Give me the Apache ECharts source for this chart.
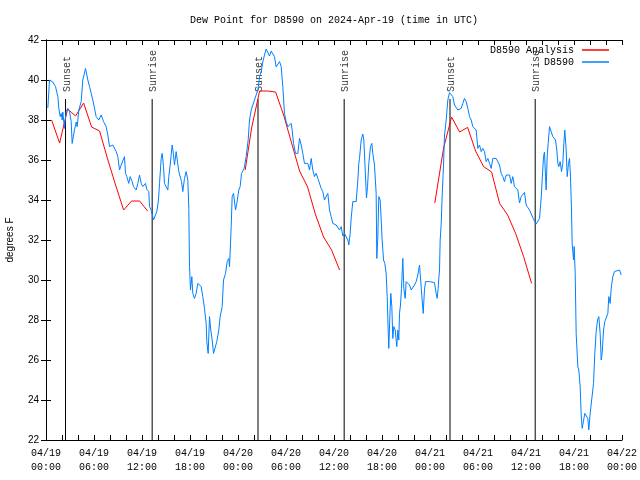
<!DOCTYPE html>
<html>
<head>
<meta charset="utf-8">
<script src="https://cdn.jsdelivr.net/npm/echarts@6/dist/echarts.min.js"></script>
<style>html,body{margin:0;padding:0;background:#fff}#c{width:640px;height:480px}</style>
</head>
<body>
<div id="c"></div>
<script>
// ---- data (hours since 2024-04-19 00:00 UTC, dew point in °F) ----
const titleText = 'Dew Point for D8590 on 2024-Apr-19 (time in UTC)';
const xTickLabels = ['04/19\n00:00','04/19\n06:00','04/19\n12:00','04/19\n18:00',
  '04/20\n00:00','04/20\n06:00','04/20\n12:00','04/20\n18:00',
  '04/21\n00:00','04/21\n06:00','04/21\n12:00','04/21\n18:00','04/22\n00:00'];

const obsHours = [0.23,0.44,0.65,0.85,1.19,1.48,1.6,1.78,1.9,2.02,2.1,2.31,2.52,2.73,2.94,3.15,3.27,3.48,3.56,3.78,3.9,4.1,4.4,4.6,4.94,5.23,5.44,5.65,5.85,6.27,6.6,6.9,7.19,7.31,7.52,7.73,7.94,8.15,8.35,8.56,8.77,8.98,9.19,9.4,9.6,9.81,9.94,10.1,10.35,10.52,10.77,10.94,11.27,11.48,11.69,11.9,12.1,12.44,12.6,12.85,12.94,13.15,13.27,13.44,13.69,13.85,14.06,14.19,14.4,14.52,14.69,14.81,15.02,15.23,15.35,15.52,15.77,15.94,16.06,16.27,16.48,16.6,16.77,16.94,17.1,17.31,17.52,17.73,17.85,17.94,18.06,18.23,18.35,18.56,18.77,18.98,19.19,19.4,19.6,19.81,20.02,20.1,20.27,20.44,20.6,20.77,20.94,21.19,21.35,21.6,21.77,22.02,22.19,22.44,22.65,22.85,22.94,23.15,23.27,23.44,23.69,23.85,24.1,24.27,24.44,24.6,24.77,25.02,25.27,25.44,25.65,25.85,26.06,26.27,26.48,26.69,26.9,27.1,27.31,27.52,27.73,27.94,28.15,28.35,28.56,28.77,28.98,29.19,29.4,29.6,29.81,30.02,30.23,30.44,30.65,30.77,30.94,31.19,31.48,31.69,31.9,32.1,32.31,32.52,32.73,32.94,33.15,33.35,33.56,33.77,33.98,34.19,34.4,34.6,34.81,35.02,35.23,35.44,35.65,35.85,36.06,36.27,36.48,36.69,36.9,37.1,37.31,37.52,37.73,37.85,38.02,38.15,38.35,38.77,38.98,39.1,39.19,39.4,39.6,39.73,39.9,40.06,40.19,40.35,40.56,40.73,40.85,41.06,41.27,41.35,41.48,41.6,41.77,41.9,42.02,42.19,42.35,42.52,42.65,42.77,42.85,42.98,43.1,43.23,43.35,43.48,43.65,43.77,43.85,43.98,44.1,44.19,44.31,44.44,44.6,44.73,44.9,45.02,45.23,45.44,45.65,45.85,46.06,46.27,46.48,46.69,46.9,47.02,47.15,47.31,47.44,47.94,48.56,48.77,48.9,49.02,49.1,49.19,49.27,49.4,49.52,49.69,49.81,50.02,50.23,50.44,50.65,50.85,51.06,51.27,51.48,51.69,51.9,52.1,52.31,52.52,52.73,52.94,53.15,53.35,53.56,53.77,53.98,54.19,54.4,54.6,54.81,55.02,55.23,55.44,55.65,55.85,56.06,56.27,56.48,56.69,56.9,57.1,57.31,57.52,57.73,57.94,58.15,58.35,58.56,58.77,58.98,59.19,59.4,59.6,59.81,60.02,60.23,60.44,60.65,60.85,61.06,61.27,61.48,61.69,61.9,62.02,62.19,62.31,62.44,62.52,62.65,62.77,62.94,63.15,63.35,63.56,63.69,63.85,63.98,64.1,64.27,64.44,64.6,64.73,64.85,65.02,65.15,65.31,65.44,65.56,65.69,65.77,65.94,66.02,66.15,66.27,66.48,66.6,66.77,66.9,67.02,67.19,67.35,67.52,67.73,67.85,68.02,68.27,68.44,68.6,68.77,68.94,69.1,69.27,69.4,69.52,69.69,69.85,70.1,70.23,70.35,70.52,70.65,70.85,71.06,71.27,71.69,71.9];
const obsDewpt = [38.6,40.0,40.08,39.9,39.67,39.17,38.58,38.17,38.33,38.0,38.4,37.58,38.42,38.58,38.42,37.92,36.83,36.83,37.5,37.9,37.67,38.5,38.92,40.0,40.58,40.0,39.67,39.33,39.0,38.17,38.0,38.25,37.92,38.0,37.67,37.25,36.67,36.58,36.75,36.83,36.42,36.17,35.5,35.75,35.83,36.17,35.33,35.17,34.83,35.17,34.92,34.67,34.5,34.83,35.25,34.83,34.67,34.83,34.53,34.42,33.67,33.5,33.5,33.0,32.97,33.42,34.0,34.83,36.08,36.33,35.67,34.83,34.92,34.5,35.17,35.75,36.75,36.25,35.75,36.42,36.42,35.42,35.42,34.92,34.42,35.08,35.42,35.0,33.58,30.67,29.5,30.17,29.33,29.08,29.33,29.83,29.83,29.67,29.17,28.58,27.83,26.92,26.33,28.17,27.5,27.0,26.33,26.33,26.92,27.5,28.17,28.67,30.0,30.33,30.92,31.08,30.67,32.67,34.17,34.33,33.5,33.83,34.5,34.67,35.33,35.33,35.58,36.17,37.0,38.0,38.5,38.45,39.0,39.25,39.5,40.15,40.42,40.9,41.25,41.55,41.58,41.2,41.45,41.5,41.17,40.65,40.7,40.92,40.67,39.67,38.33,37.92,37.67,37.58,37.83,37.5,36.83,36.33,36.33,37.08,36.75,36.33,35.83,35.75,35.83,35.5,36.08,35.5,35.17,35.33,35.08,35.0,34.58,34.42,34.0,34.08,34.33,33.5,33.17,32.83,32.75,32.75,32.67,32.5,32.67,32.2,32.33,32.25,32.0,31.75,32.33,33.1,33.92,33.92,35.0,35.83,36.08,37.0,37.3,37.0,35.5,34.1,34.67,35.83,36.67,36.83,36.33,35.75,34.33,31.08,32.17,34.17,34.0,33.0,32.0,31.0,30.83,30.33,29.17,27.5,26.58,28.17,29.33,28.67,27.08,27.67,27.5,27.0,26.67,27.5,27.0,28.33,28.75,29.58,31.08,29.58,29.08,29.92,29.92,29.75,29.5,29.5,29.75,29.92,30.25,30.75,30.75,29.0,28.33,29.5,29.92,29.92,29.87,29.33,29.08,29.58,30.08,30.5,32.0,32.8,34.2,35.75,37.2,38.0,39.0,39.37,39.42,39.17,38.75,38.83,38.5,38.42,38.58,38.83,39.08,38.92,38.58,38.17,38.0,37.67,37.75,37.5,36.58,36.75,36.42,36.58,36.42,35.92,36.08,35.83,35.58,36.08,36.0,36.08,36.0,35.75,35.33,35.17,34.92,35.25,35.17,35.25,34.83,35.17,34.67,34.67,34.5,33.85,34.17,34.2,34.38,33.75,33.62,33.5,33.5,33.12,33.04,32.8,32.75,33.08,34.1,35.0,36.17,36.4,35.17,34.5,36.2,36.83,37.67,37.75,37.17,37.2,37.0,36.5,35.83,35.67,35.92,35.42,35.83,36.83,37.5,36.5,35.17,35.83,36.08,35.17,33.5,31.83,31.0,31.67,30.33,27.33,25.67,25.5,24.67,23.25,22.58,22.58,23.33,23.33,23.08,22.5,23.33,23.33,24.83,26.33,27.42,28.0,28.17,27.33,26.0,26.33,27.5,27.92,27.92,28.33,29.17,28.83,29.58,30.17,30.42,30.5,30.5,30.25];

// Analysis (hourly); null = no analysis
const anaHours = [0.7,1.7,2.7,3.7,4.7,5.7,6.7,7.7,8.7,9.7,10.7,11.7,12.7, 18.7,
  24.9,25.7,26.7,27.7,28.7,29.7,30.7,31.7,32.7,33.7,34.7,35.7,36.7, 42.7,
  48.6,49.7,50.7,51.7,52.7,53.7,54.7,55.7,56.7,57.7,58.7,59.7,60.7];
const anaDewpt = [38.0,36.85,38.55,38.2,38.85,37.65,37.45,36.05,34.75,33.5,33.95,33.95,33.45, null,
  35.5,37.6,39.45,39.45,39.4,38.25,36.85,35.45,34.65,33.25,32.15,31.5,30.5, null,
  33.85,36.6,38.15,37.4,37.63,36.45,35.67,35.4,33.83,33.25,32.33,31.17,29.83];

// Sun events (hours) and labels
const sunHours = [2.44, 13.27, 26.5, 37.27, 50.5, 61.15];
const sunLabels = ['Sunset','Sunrise','Sunset','Sunrise','Sunset','Sunrise'];
const sunLineBottom = 22;
const sunLineTop = 39.05;

// ---- chart ----
const mono = '"Liberation Mono", "DejaVu Sans Mono", monospace';
const sans = '"Liberation Sans", Arial, sans-serif';

const obsData = obsHours.map((h, i) => [h, obsDewpt[i]]);
const anaData = anaHours.map((h, i) => [h, anaDewpt[i] == null ? '-' : anaDewpt[i]]);
const sunLineData = [];
sunHours.forEach(h => { sunLineData.push([h, sunLineBottom]); sunLineData.push([h, sunLineTop]); sunLineData.push([h, '-']); });
const sunLabelData = sunHours.map((h, i) => ({ value: [h, sunLineTop], name: sunLabels[i] }));

const axisLineStyle = { show: true, lineStyle: { color: '#000', width: 1 } };
const tickStyle = { show: true, inside: true, length: 5, lineStyle: { color: '#000', width: 1 } };

const chart = echarts.init(document.getElementById('c'));
chart.setOption({
  animation: false,
  backgroundColor: '#ffffff',
  title: {
    text: titleText, left: 334, top: 15, textAlign: 'center', padding: 0,
    textStyle: { fontFamily: mono, fontSize: 10, fontWeight: 'normal', color: '#000' }
  },
  legend: {
    data: ['D8590 Analysis', 'D8590'],
    orient: 'vertical', right: 31, top: 44, align: 'right',
    icon: 'rect', itemWidth: 27, itemHeight: 1.5, itemGap: 0, padding: 0,
    textStyle: { fontFamily: mono, fontSize: 10, color: '#000', lineHeight: 12, padding: [0, 3, 0, 0] }
  },
  grid: { left: 46, right: 18, top: 40, bottom: 40, containLabel: false, outerBoundsMode: 'none' },
  xAxis: [
    {
      type: 'value', min: 0, max: 72, interval: 2, position: 'bottom',
      axisLine: axisLineStyle, axisTick: tickStyle, splitLine: { show: false },
      axisLabel: {
        formatter: v => (v % 6 === 0 ? xTickLabels[v / 6] : ''),
        fontFamily: mono, fontSize: 10, lineHeight: 14, margin: 6, color: '#000',
        showMinLabel: true, showMaxLabel: true
      }
    },
    {
      type: 'value', min: 0, max: 72, interval: 2, position: 'top',
      axisLine: axisLineStyle, axisTick: tickStyle, splitLine: { show: false },
      axisLabel: { show: false }
    }
  ],
  yAxis: [
    {
      type: 'value', min: 22, max: 42, interval: 2, position: 'left',
      name: 'degrees F', nameLocation: 'middle', nameGap: 31, nameRotate: 90,
      nameTextStyle: { fontFamily: sans, fontSize: 10, color: '#000' },
      axisLine: axisLineStyle, axisTick: tickStyle, splitLine: { show: false },
      axisLabel: { fontFamily: sans, fontSize: 10, color: '#000', margin: 7 }
    },
    {
      type: 'value', min: 22, max: 42, interval: 2, position: 'right',
      axisLine: axisLineStyle, axisTick: tickStyle, splitLine: { show: false },
      axisLabel: { show: false }
    }
  ],
  series: [
    {
      name: 'sun', type: 'line', data: sunLineData, showSymbol: false, silent: true,
      lineStyle: { color: '#000', width: 1 }, itemStyle: { color: '#000' }, z: 1
    },
    {
      name: 'sunlabel', type: 'scatter', data: sunLabelData, symbolSize: 0, silent: true,
      label: {
        show: true, formatter: p => p.name, position: 'inside', rotate: 90,
        align: 'left', verticalAlign: 'middle', offset: [7, 1.5],
        fontFamily: mono, fontSize: 10, color: '#000'
      }, z: 1
    },
    {
      name: 'D8590 Analysis', type: 'line', data: anaData, showSymbol: false,
      connectNulls: false, lineStyle: { color: '#ff0000', width: 1 }, itemStyle: { color: '#ff0000' }, z: 2
    },
    {
      name: 'D8590', type: 'line', data: obsData, showSymbol: false,
      lineStyle: { color: '#0080ff', width: 1 }, itemStyle: { color: '#0080ff' }, z: 3
    }
  ]
});
</script>
</body>
</html>
